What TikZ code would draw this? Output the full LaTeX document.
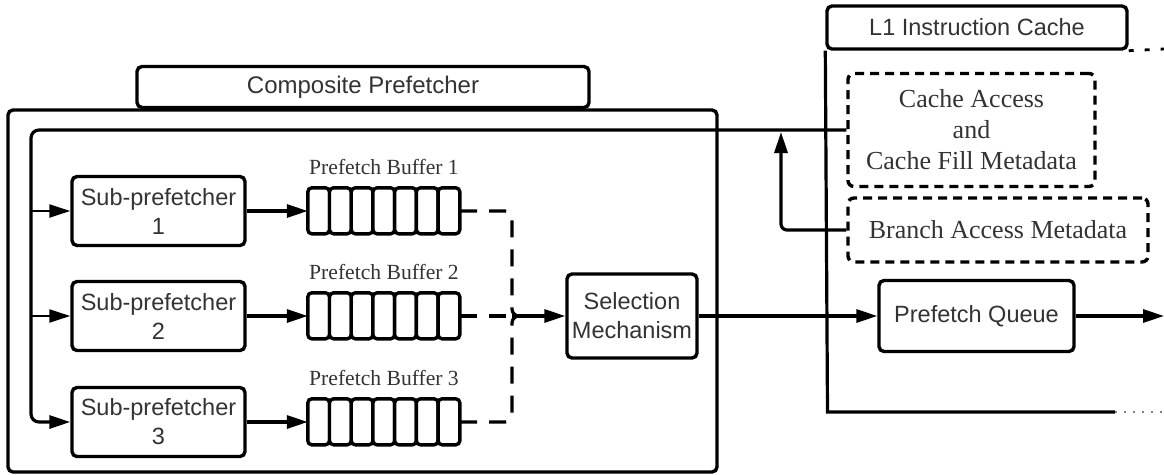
\documentclass[tikz,border=0pt]{standalone}
\usepackage{fontspec}
\setmainfont{Liberation Serif}
\setsansfont{Liberation Sans}
\usetikzlibrary{arrows.meta,calc}
\definecolor{txt}{RGB}{51,51,51}

\begin{document}
\begin{tikzpicture}[x=1pt,y=-1pt,
  box/.style={draw, line width=3.4pt, rounded corners=5pt, fill=white, text=txt,
    align=center, inner sep=0pt, font=\sffamily\fontsize{23.5}{29}\selectfont},
  frame/.style={draw, line width=3.4pt, rounded corners=5pt, inner sep=0pt},
  dbox/.style={draw, line width=3.4pt, dash pattern=on 9pt off 6pt, rounded corners=6pt,
    text=txt, align=center, inner sep=0pt, font=\fontsize{26}{31}\selectfont},
  buflabel/.style={text=txt, inner sep=0pt, font=\fontsize{21.6}{25}\selectfont},
  bufframe/.style={minimum width=152pt, minimum height=46pt, inner sep=0pt},
  cell/.style={draw, line width=3.4pt, rounded corners=4pt, fill=white},
  conn/.style={line width=3.2pt},
  arr/.style={conn, -{Triangle[length=21pt,width=13pt]}},
  thinarr/.style={line width=2.2pt, -{Triangle[length=21pt,width=13pt]}},
  dsh/.style={line width=3.2pt, dash pattern=on 17pt off 12pt},
]
\useasboundingbox (0,0) rectangle (1164,474);

% L1 instruction cache frame
\node[box, minimum width=300pt, minimum height=43pt] (l1) at (977,27.5) {L1 Instruction Cache};
\coordinate (l1c) at (827.5,412);
\coordinate (l1e) at (1115,412);
\draw[conn] (l1.south west) -- (l1c) -- (l1e);
\draw[gray, line width=1.5pt, dash pattern=on 2pt off 7pt] (l1e) -- (1164,412);
\draw[line width=2.8pt, dash pattern=on 5pt off 11pt] (l1.south east) -- (1164,49);

% composite prefetcher frame
\node[frame, minimum width=709pt, minimum height=362pt] (cpf) at (362.5,291) {};
\node[box, minimum width=452pt, minimum height=41pt, font=\sffamily\fontsize{24}{29}\selectfont]
  (cpt) at (363,87) {Composite Prefetcher};

% metadata blocks
\node[dbox, minimum width=247pt, minimum height=113pt] (ca) at (971.5,130)
  {Cache Access\\and\\Cache Fill Metadata};
\node[dbox, minimum width=300pt, minimum height=64pt] (ba) at (998,230)
  {Branch Access Metadata};

% sub-prefetchers
\node[box, minimum width=173pt, minimum height=69pt] (sp1) at (158.5,211) {Sub-prefetcher\\1};
\node[box, minimum width=173pt, minimum height=69pt] (sp2) at (158.5,316) {Sub-prefetcher\\2};
\node[box, minimum width=173pt, minimum height=69pt] (sp3) at (158.5,422) {Sub-prefetcher\\3};

% prefetch buffers
\foreach \y/\n in {211/1,316/2,422/3} {
  \node[bufframe] (buf\n) at (384,\y) {};
  \node[buflabel] (bl\n) at (384,\y-44) {Prefetch Buffer \n};
  \foreach \i in {0,...,6}
    \draw[cell] ($(buf\n.north west)+(\i*21.714,0)$) rectangle +(21.714,46);
}

% selection and queue
\node[box, minimum width=130pt, minimum height=84pt] (sel) at (632,316) {Selection\\Mechanism};
\node[box, minimum width=195pt, minimum height=71pt] (pq) at (976.5,316) {Prefetch Queue};

% metadata feed into the sub-prefetchers
\coordinate (trunk) at (31,300);
\coordinate (tap) at (781,132);
\draw[arr, rounded corners=8pt] (ca.west) -| (trunk |- sp3.west) -- (sp3.west);
\draw[thinarr] (trunk |- sp1.west) -- (sp1.west);
\draw[thinarr] (trunk |- sp2.west) -- (sp2.west);
\draw[arr, rounded corners=6pt] (ba.west) -| (tap);

% sub-prefetchers to buffers
\draw[arr] (sp1.east) -- (buf1.west);
\draw[arr] (sp2.east) -- (buf2.west);
\draw[arr] (sp3.east) -- (buf3.west);

% buffers to selection
\coordinate (join) at (512,316);
\draw[dsh, rounded corners=7pt] (buf1.east) -| (join) -- ++(10,0);
\draw[dsh, rounded corners=7pt] (buf3.east) -| (join) -- ++(10,0);
\draw[dsh] (buf2.east) -- (join);
\draw[arr] (join) -- (sel.west);

% selection to queue and out
\coordinate (qout) at (1164,316);
\draw[arr] (sel.east) -- (pq.west);
\draw[arr] (pq.east) -- (qout);
\end{tikzpicture}
\end{document}
